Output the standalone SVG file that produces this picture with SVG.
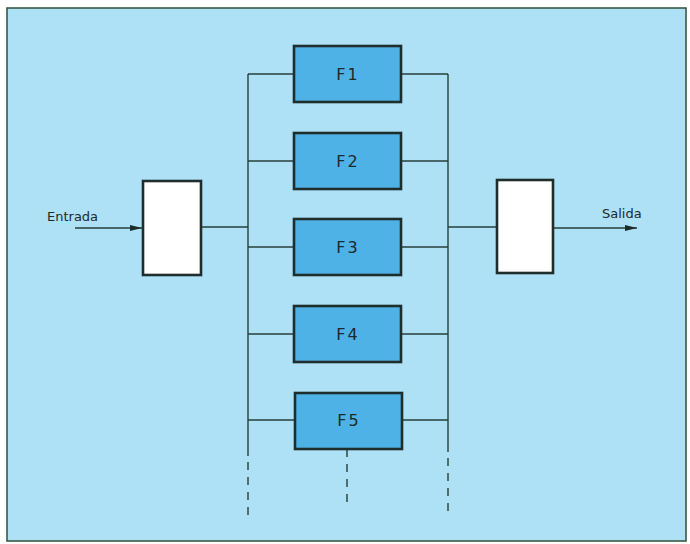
<svg xmlns="http://www.w3.org/2000/svg" width="690" height="544" viewBox="0 0 690 544">
<defs>
<style>
.ln{stroke:#243f38;stroke-width:1.4;fill:none}
.ds{stroke:#243f38;stroke-width:1.4;fill:none;stroke-dasharray:8,7}
.fb{fill:#4fb2e6;stroke:#1e2e2c;stroke-width:2.6}
.wb{fill:#ffffff;stroke:#1e2e2c;stroke-width:2.6}
.lbl{font-family:"DejaVu Sans",sans-serif;font-size:16px;fill:#1c2a2a;text-anchor:middle;letter-spacing:2px}
.io{font-family:"DejaVu Sans",sans-serif;font-size:13px;fill:#1c2a2a}
</style>
<marker id="ah" viewBox="0 0 12 6" refX="12" refY="3" markerWidth="12" markerHeight="6" markerUnits="userSpaceOnUse" orient="auto">
<path d="M0,0 L12,3 L0,6 Z" fill="#1c2a2a"/>
</marker>
</defs>
<rect x="0" y="0" width="690" height="544" fill="#ffffff"/>
<rect x="7" y="8" width="679" height="533" fill="#aee0f6" stroke="#2f4f3a" stroke-width="1.5"/>
<g id="connectors">
<line class="ln" x1="75" y1="228" x2="142" y2="228" marker-end="url(#ah)"/>
<line class="ln" x1="201" y1="227" x2="248" y2="227"/>
<line class="ln" x1="248" y1="74" x2="248" y2="456"/>
<line class="ds" x1="248" y1="462" x2="248" y2="516"/>
<line class="ln" x1="448" y1="74" x2="448" y2="452"/>
<line class="ds" x1="448" y1="458" x2="448" y2="512"/>
<line class="ds" x1="347" y1="449" x2="347" y2="504"/>
<line class="ln" x1="248" y1="74" x2="294" y2="74"/>
<line class="ln" x1="401" y1="74" x2="448" y2="74"/>
<line class="ln" x1="248" y1="161" x2="294" y2="161"/>
<line class="ln" x1="401" y1="161" x2="448" y2="161"/>
<line class="ln" x1="248" y1="247" x2="294" y2="247"/>
<line class="ln" x1="401" y1="247" x2="448" y2="247"/>
<line class="ln" x1="248" y1="334" x2="294" y2="334"/>
<line class="ln" x1="401" y1="334" x2="448" y2="334"/>
<line class="ln" x1="248" y1="420" x2="295" y2="420"/>
<line class="ln" x1="402" y1="420" x2="448" y2="420"/>
<line class="ln" x1="448" y1="227" x2="497" y2="227"/>
<line class="ln" x1="553" y1="228" x2="637" y2="228" marker-end="url(#ah)"/>
</g>
<g id="entrada">
<text class="io" x="47" y="221">Entrada</text>
</g>
<g id="input">
<rect class="wb" x="143" y="181" width="58" height="94"/>
</g>
<g id="F1"><rect class="fb" x="294" y="46" width="107" height="56"/><text class="lbl" x="348" y="80">F1</text></g>
<g id="F2"><rect class="fb" x="294" y="133" width="107" height="56"/><text class="lbl" x="348" y="167">F2</text></g>
<g id="F3"><rect class="fb" x="294" y="219" width="107" height="56"/><text class="lbl" x="348" y="253">F3</text></g>
<g id="F4"><rect class="fb" x="294" y="306" width="107" height="56"/><text class="lbl" x="348" y="340">F4</text></g>
<g id="F5"><rect class="fb" x="295" y="393" width="107" height="56"/><text class="lbl" x="349" y="426">F5</text></g>
<g id="output">
<rect class="wb" x="497" y="180" width="56" height="93"/>
</g>
<g id="salida">
<text class="io" x="602" y="218">Salida</text>
</g>
</svg>
